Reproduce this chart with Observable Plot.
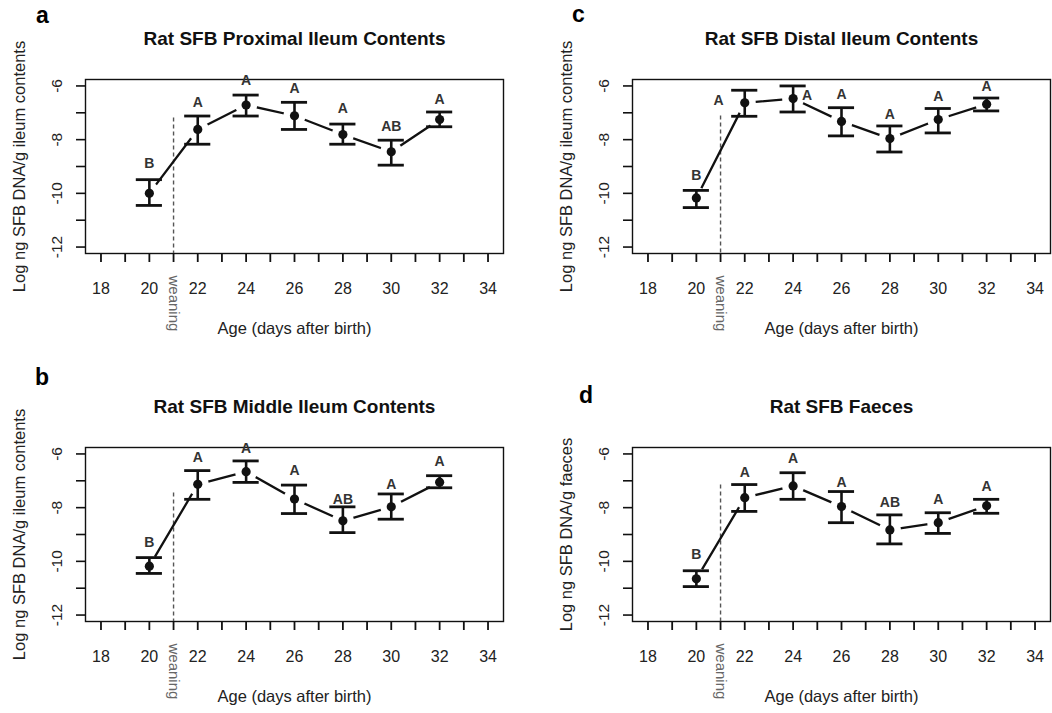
<!DOCTYPE html>
<html><head><meta charset="utf-8">
<script src="https://cdn.jsdelivr.net/npm/d3@7"></script>
<script src="https://cdn.jsdelivr.net/npm/@observablehq/plot@0.6"></script>
<style>
html,body{margin:0;padding:0;background:#fff;overflow:hidden;}
#wrap{position:relative;width:1052px;height:713px;overflow:hidden;}
.panel{position:absolute;}
#letters{position:absolute;left:0;top:0;}
</style></head><body><div id="wrap"></div>
<script>
// ---- data ----
const days = [20, 22, 24, 26, 28, 30, 32];
const xTicks = [18, 19, 20, 21, 22, 23, 24, 25, 26, 27, 28, 29, 30, 31, 32, 33, 34];
const xTickLabels = [18, 20, 22, 24, 26, 28, 30, 32, 34];
const yTicks = [-12, -11, -10, -9, -8, -7, -6];
const yTickLabels = [-12, -10, -8, -6];
const weaningDay = 21;
const xLabel = "Age (days after birth)";

// a: Proximal ileum
const proxTitle = "Rat SFB Proximal Ileum Contents";
const proxYLabel = "Log ng SFB DNA/g ileum contents";
const proxMean = [-10.0, -7.62, -6.71, -7.11, -7.81, -8.45, -7.25];
const proxHi = [-9.49, -7.12, -6.34, -6.61, -7.42, -8.02, -6.97];
const proxLo = [-10.45, -8.17, -7.12, -7.62, -8.17, -8.95, -7.52];
const proxLetters = ["B", "A", "A", "A", "A", "AB", "A"];
const proxLetterX = [20, 22, 24, 26, 28, 30, 32];
const proxLetterY = [-8.89, -6.62, -5.81, -6.09, -6.83, -7.52, -6.49];
const proxWeanTop = -7.19;

// b: Middle ileum
const midTitle = "Rat SFB Middle Ileum Contents";
const midYLabel = "Log ng SFB DNA/g ileum contents";
const midMean = [-10.18, -7.13, -6.66, -7.68, -8.49, -7.97, -7.05];
const midHi = [-9.86, -6.62, -6.26, -7.16, -7.97, -7.49, -6.81];
const midLo = [-10.45, -7.69, -7.06, -8.22, -8.93, -8.43, -7.26];
const midLetters = ["B", "A", "A", "A", "AB", "A", "A"];
const midLetterX = [20, 22, 24, 26, 28, 30, 32];
const midLetterY = [-9.31, -6.12, -5.81, -6.62, -7.71, -7.13, -6.29];
const midWeanTop = -7.45;

// c: Distal ileum
const distTitle = "Rat SFB Distal Ileum Contents";
const distYLabel = "Log ng SFB DNA/g ileum contents";
const distMean = [-10.17, -6.63, -6.47, -7.32, -7.96, -7.25, -6.68];
const distHi = [-9.89, -6.16, -6.0, -6.81, -7.49, -6.84, -6.45];
const distLo = [-10.53, -7.13, -6.97, -7.86, -8.46, -7.75, -6.93];
const distLetters = ["B", "A", "A", "A", "A", "A", "A"];
const distLetterX = [20, 20.92, 24.58, 26, 28, 30, 32];
const distLetterY = [-9.33, -6.53, -6.35, -6.32, -7.06, -6.41, -6.01];
const distWeanTop = -7.12;

// d: Faeces
const faecTitle = "Rat SFB Faeces";
const faecYLabel = "Log ng SFB DNA/g faeces";
const faecMean = [-10.65, -7.63, -7.19, -7.96, -8.83, -8.56, -7.93];
const faecHi = [-10.35, -7.14, -6.70, -7.40, -8.27, -8.19, -7.69];
const faecLo = [-10.94, -8.14, -7.69, -8.56, -9.35, -8.96, -8.21];
const faecLetters = ["B", "A", "A", "A", "AB", "A", "A"];
const faecLetterX = [20, 22, 24, 26, 28, 30, 32];
const faecLetterY = [-9.73, -6.70, -6.16, -7.07, -7.81, -7.71, -7.22];
const faecWeanTop = -7.16;

// ---- drawing ----
const xDomain = [17.36, 34.64];
const yDomain = [-12.24, -5.76];
const CAP = 0.54;
const FONT = "'Liberation Sans', Arial, Helvetica, sans-serif";

function panel(cfg) {
  const data = days.map((d, i) => ({day: d, mean: cfg.mean[i], lo: cfg.lo[i], hi: cfg.hi[i]}));
  const labels = cfg.letters.map((t, i) => ({x: cfg.letterX[i], y: cfg.letterY[i], t}));
  const mid = {textAnchor: "middle", lineAnchor: "middle"};
  return Plot.plot({
    width: cfg.width, height: 345,
    marginLeft: 85, marginRight: cfg.marginRight, marginTop: 79, marginBottom: 92,
    x: {domain: xDomain},
    y: {domain: yDomain},
    style: {fontFamily: FONT, background: "white", color: "#111", overflow: "visible"},
    marks: [
      Plot.frame({stroke: "#111", strokeWidth: 1.4}),
      Plot.axisY({ticks: yTicks, tickSize: 9, tickFormat: () => "", strokeWidth: 1.6, label: null}),
      Plot.axisX({ticks: xTicks, tickSize: 9, tickFormat: () => "", strokeWidth: 1.8, label: null}),
      Plot.text(yTickLabels, {...mid, y: d => d, frameAnchor: "left", dx: -28, rotate: -90, text: d => String(d), fontSize: 15.5, fill: "#222"}),
      Plot.text(xTickLabels, {...mid, x: d => d, frameAnchor: "bottom", dy: 35, text: d => String(d), fontSize: 16, fill: "#222"}),
      Plot.text([cfg.ylabel], {...mid, frameAnchor: "left", dx: -66, rotate: -90, text: d => d, fontSize: 16.5, fill: "#222"}),
      Plot.text([xLabel], {...mid, frameAnchor: "bottom", dy: 75, text: d => d, fontSize: 16.5, fill: "#222"}),
      Plot.text([cfg.title], {...mid, frameAnchor: "top", dy: -41, text: d => d, fontSize: 19, fontWeight: "bold", fill: "#111"}),
      Plot.ruleX([weaningDay], {x: d => d, y1: () => cfg.weanTop, y2: () => yDomain[0], stroke: "#555", strokeWidth: 1.4, strokeDasharray: "4,3"}),
      Plot.text([weaningDay], {x: d => d, frameAnchor: "bottom", dy: 22, rotate: 90, textAnchor: "start", lineAnchor: "middle", text: () => "weaning", fill: "#666", fontSize: 15}),
      Plot.line(data, {x: "day", y: "mean", stroke: "#111", strokeWidth: 2.3}),
      Plot.dot(data, {x: "day", y: "mean", r: 11, fill: "white", stroke: null}),
      Plot.ruleX(data, {x: "day", y1: "lo", y2: "hi", stroke: "#111", strokeWidth: 2.6}),
      Plot.ruleY(data, {y: "hi", x1: d => d.day - CAP, x2: d => d.day + CAP, stroke: "#111", strokeWidth: 2.8}),
      Plot.ruleY(data, {y: "lo", x1: d => d.day - CAP, x2: d => d.day + CAP, stroke: "#111", strokeWidth: 2.8}),
      Plot.dot(data, {x: "day", y: "mean", r: 4.6, fill: "#111", stroke: null}),
      Plot.text(labels, {...mid, x: "x", y: "y", text: "t", fontSize: 14, fontWeight: "bold", fill: "#333"})
    ]
  });
}

const wrap = document.getElementById("wrap");
const panels = [
  {left: 0, top: 0, width: 510, marginRight: 7, title: proxTitle, ylabel: proxYLabel, mean: proxMean, hi: proxHi, lo: proxLo, letters: proxLetters, letterX: proxLetterX, letterY: proxLetterY, weanTop: proxWeanTop},
  {left: 547, top: 0, width: 505, marginRight: 2, title: distTitle, ylabel: distYLabel, mean: distMean, hi: distHi, lo: distLo, letters: distLetters, letterX: distLetterX, letterY: distLetterY, weanTop: distWeanTop},
  {left: 0, top: 368, width: 510, marginRight: 7, title: midTitle, ylabel: midYLabel, mean: midMean, hi: midHi, lo: midLo, letters: midLetters, letterX: midLetterX, letterY: midLetterY, weanTop: midWeanTop},
  {left: 547, top: 368, width: 505, marginRight: 2, title: faecTitle, ylabel: faecYLabel, mean: faecMean, hi: faecHi, lo: faecLo, letters: faecLetters, letterX: faecLetterX, letterY: faecLetterY, weanTop: faecWeanTop}
];
for (const p of panels) {
  const el = panel(p);
  const div = document.createElement("div");
  div.className = "panel";
  div.style.left = p.left + "px";
  div.style.top = p.top + "px";
  div.appendChild(el);
  wrap.appendChild(div);
}

// panel letters
const panelLetters = ["a", "c", "b", "d"];
const letterPos = [[36, 23], [572, 22], [35, 385], [579, 403]];
const ns = "http://www.w3.org/2000/svg";
const svg = document.createElementNS(ns, "svg");
svg.setAttribute("id", "letters");
svg.setAttribute("width", 1052);
svg.setAttribute("height", 713);
panelLetters.forEach((t, i) => {
  const tx = document.createElementNS(ns, "text");
  tx.setAttribute("x", letterPos[i][0]);
  tx.setAttribute("y", letterPos[i][1]);
  tx.setAttribute("font-family", FONT);
  tx.setAttribute("font-weight", "bold");
  tx.setAttribute("font-size", 23);
  tx.textContent = t;
  svg.appendChild(tx);
});
wrap.appendChild(svg);
</script>
</body></html>
